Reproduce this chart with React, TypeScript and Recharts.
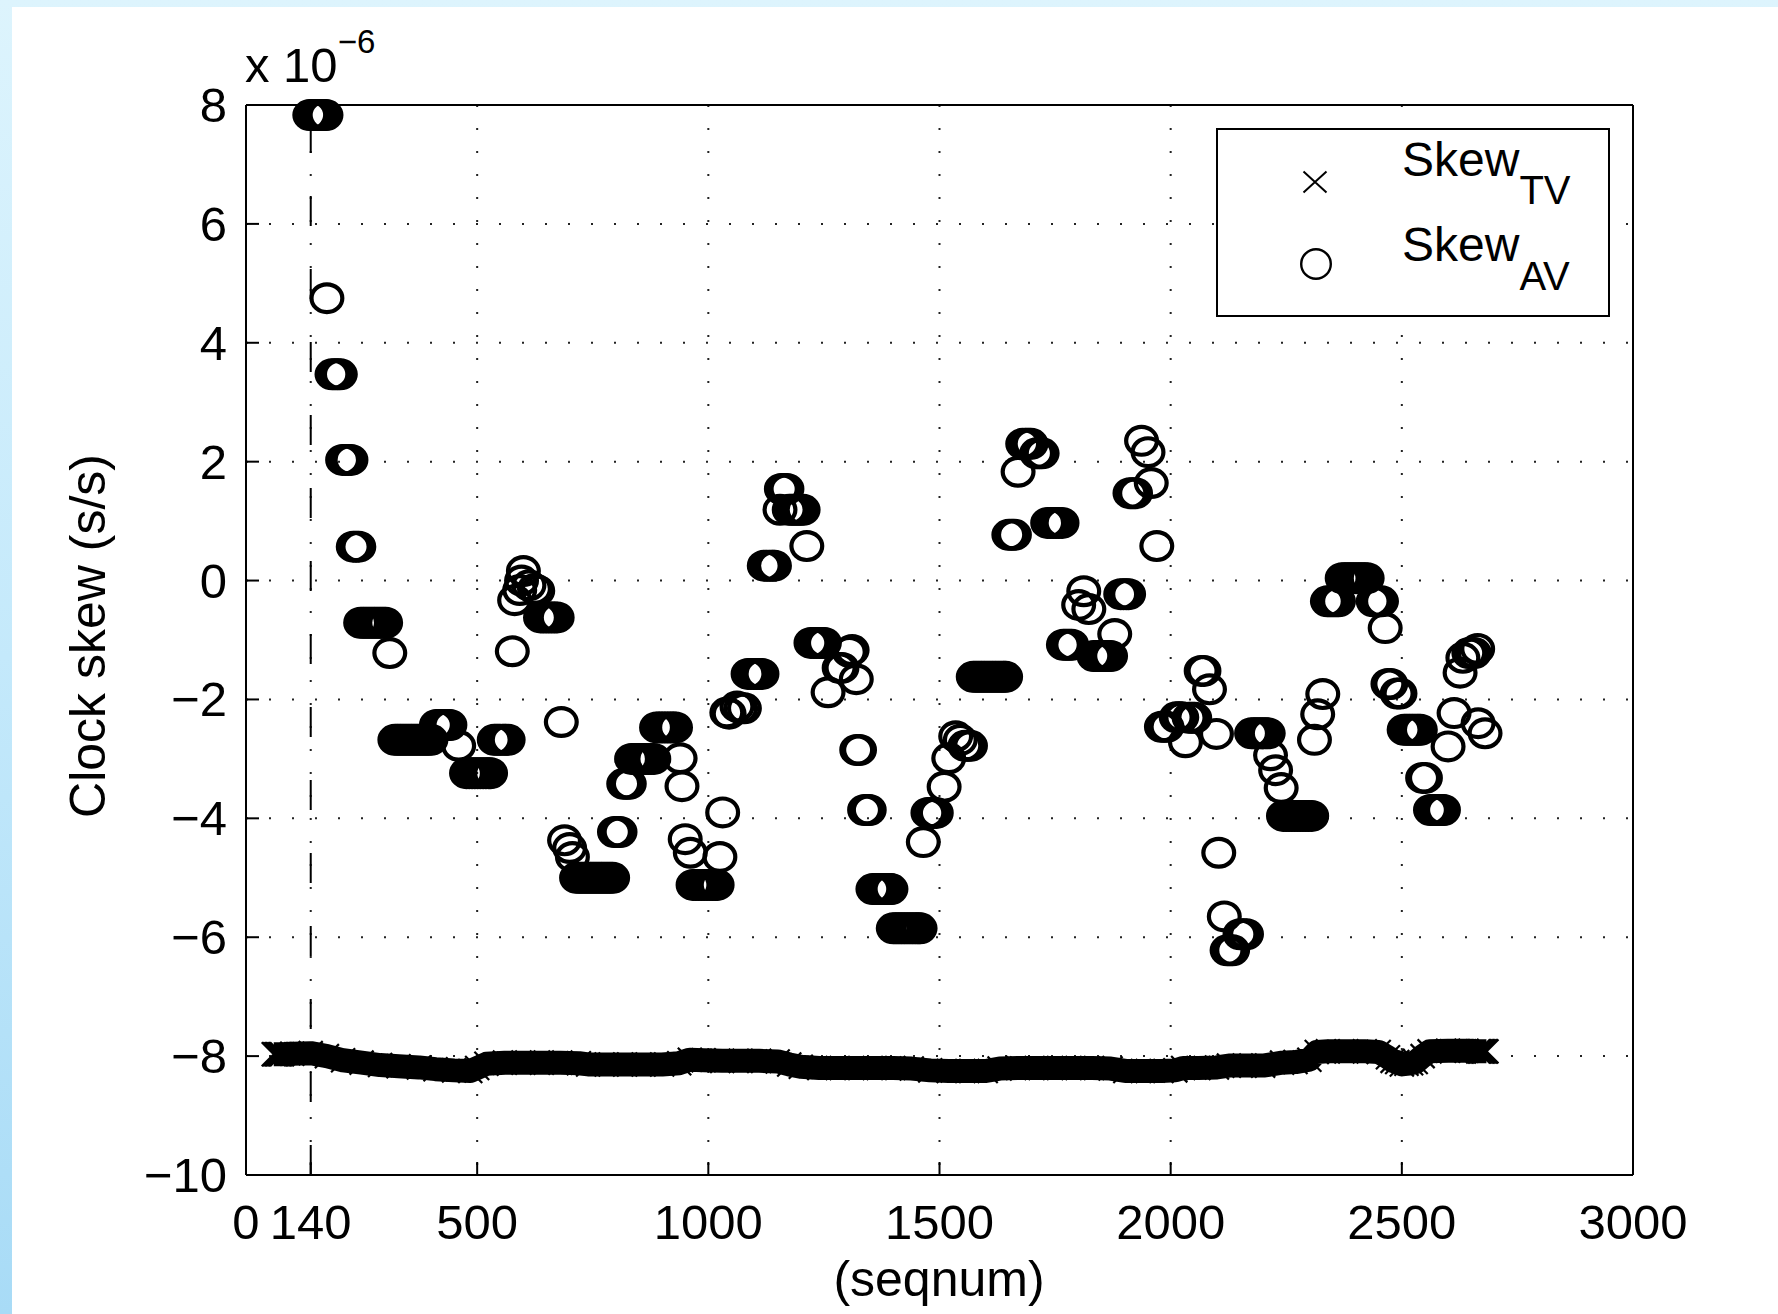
import React from 'react';
import { ScatterChart, Scatter, XAxis, YAxis, CartesianGrid, ReferenceLine } from 'recharts';

const FONT = "'Liberation Sans', Arial, Helvetica, sans-serif";

// axis ticks: seqnum on x, clock skew (x 1e-6 s/s) on y
const seqTicks = [0, 140, 500, 1000, 1500, 2000, 2500, 3000];
const skewTicks = [-10, -8, -6, -4, -2, 0, 2, 4, 6, 8];

// Skew_TV  [seqnum, skew x1e-6]
const skewTV: [number, number][] = [
  [60, -7.97], [63, -7.97], [66, -7.97], [69, -7.97], [72, -7.97], [75, -7.97], [78, -7.97],
  [100, -7.96], [140, -7.95], [175, -8.0], [210, -8.07], [250, -8.11], [290, -8.15],
  [330, -8.17], [374, -8.19], [410, -8.22], [450, -8.24], [485, -8.25], [500, -8.2], [520, -8.13],
  [560, -8.11], [600, -8.11], [640, -8.11], [680, -8.11], [720, -8.12], [740, -8.14], [780, -8.14],
  [820, -8.14], [860, -8.14], [900, -8.14], [937, -8.12], [960, -8.06], [990, -8.07], [1030, -8.08],
  [1070, -8.08], [1110, -8.08], [1150, -8.09], [1175, -8.14], [1200, -8.18], [1240, -8.2], [1280, -8.2],
  [1320, -8.2], [1360, -8.2], [1400, -8.2], [1440, -8.21], [1480, -8.24], [1520, -8.25], [1560, -8.25],
  [1600, -8.25], [1630, -8.21], [1670, -8.2], [1710, -8.2], [1750, -8.2], [1790, -8.2], [1830, -8.2],
  [1870, -8.21], [1902, -8.25], [1940, -8.25], [1980, -8.25], [2010, -8.24], [2027, -8.2], [2060, -8.2],
  [2100, -8.19], [2126, -8.16], [2160, -8.16], [2200, -8.16], [2241, -8.11], [2270, -8.1], [2300, -8.06],
  [2316, -7.93], [2340, -7.92], [2380, -7.92], [2420, -7.92], [2450, -7.93], [2470, -8.02], [2480, -8.08],
  [2490, -8.1], [2500, -8.14], [2510, -8.13], [2520, -8.12], [2530, -8.1], [2545, -8.0], [2560, -7.92],
  [2600, -7.91], [2640, -7.91], [2665, -7.92], [2668, -7.92], [2671, -7.92], [2674, -7.92], [2677, -7.92],
  [2680, -7.92], [2683, -7.92],
];

// Skew_AV  [seqnum, skew x1e-6]
const skewAV: [number, number][] = [
  [138, 7.83], [144, 7.83], [150, 7.83], [156, 7.83], [162, 7.83], [168, 7.83], [173, 7.83],
  [175, 4.75],
  [186, 3.47], [192, 3.47], [198, 3.47], [204, 3.47],
  [209, 2.03], [215, 2.03], [221, 2.03], [227, 2.03],
  [232, 0.57], [238, 0.57], [244, 0.57],
  [248, -0.71], [254, -0.71], [260, -0.71], [266, -0.71], [272, -0.71], [278, -0.71], [284, -0.71], [290, -0.71], [296, -0.71], [302, -0.71],
  [311, -1.22],
  [322, -2.68], [328, -2.68], [334, -2.68], [340, -2.68], [346, -2.68], [352, -2.68], [358, -2.68], [364, -2.68], [370, -2.68], [376, -2.68], [382, -2.68], [388, -2.68], [394, -2.68], [400, -2.68],
  [412, -2.43], [418, -2.43], [424, -2.43], [430, -2.43], [436, -2.43], [441, -2.43],
  [460, -2.78],
  [477, -3.24], [483, -3.24], [489, -3.24], [495, -3.24], [501, -3.24], [507, -3.24], [513, -3.24], [519, -3.24], [525, -3.24], [529, -3.24],
  [537, -2.68], [543, -2.68], [549, -2.68], [555, -2.68], [561, -2.68], [567, -2.68],
  [576, -1.19],
  [581, -0.33], [592, -0.16], [596, 0.0], [600, 0.16], [612, -0.08], [624, -0.14], [631, -0.17],
  [637, -0.62], [643, -0.62], [649, -0.62], [655, -0.62], [661, -0.62], [667, -0.62], [673, -0.62],
  [682, -2.38],
  [689, -4.37], [700, -4.5], [706, -4.65],
  [715, -5.0], [721, -5.0], [727, -5.0], [733, -5.0], [739, -5.0], [745, -5.0], [751, -5.0], [757, -5.0], [763, -5.0], [769, -5.0], [775, -5.0], [781, -5.0], [787, -5.0], [793, -5.0],
  [797, -4.23], [803, -4.23], [809, -4.23],
  [817, -3.42], [823, -3.42], [829, -3.42],
  [834, -3.0], [840, -3.0], [846, -3.0], [852, -3.0], [858, -3.0], [864, -3.0], [870, -3.0], [876, -3.0], [882, -3.0],
  [888, -2.47], [894, -2.47], [900, -2.47], [906, -2.47], [912, -2.47], [918, -2.47], [924, -2.47], [929, -2.47],
  [939, -2.99], [943, -3.46], [950, -4.35], [961, -4.58],
  [967, -5.12], [973, -5.12], [979, -5.12], [985, -5.12], [991, -5.12], [997, -5.12], [1003, -5.12], [1009, -5.12], [1015, -5.12], [1019, -5.12],
  [1025, -4.65], [1031, -3.9],
  [1040, -2.22], [1045, -2.24], [1062, -2.12], [1070, -2.15], [1078, -2.15],
  [1086, -1.57], [1092, -1.57], [1098, -1.57], [1104, -1.57], [1110, -1.57], [1116, -1.57],
  [1121, 0.25], [1127, 0.25], [1133, 0.25], [1139, 0.25], [1143, 0.25],
  [1155, 1.19],
  [1158, 1.54], [1164, 1.54], [1170, 1.54],
  [1175, 1.19], [1181, 1.19], [1187, 1.19], [1193, 1.19], [1199, 1.19], [1205, 1.19],
  [1213, 0.58],
  [1222, -1.05], [1228, -1.05], [1234, -1.05], [1240, -1.05], [1246, -1.05], [1251, -1.05],
  [1259, -1.88],
  [1283, -1.47], [1289, -1.47],
  [1305, -1.2], [1311, -1.17], [1320, -1.66],
  [1321, -2.85], [1327, -2.85],
  [1338, -3.86], [1344, -3.86], [1348, -3.86],
  [1356, -5.19], [1362, -5.19], [1368, -5.19], [1374, -5.19], [1380, -5.19], [1386, -5.19], [1392, -5.19], [1395, -5.19],
  [1400, -5.85], [1406, -5.85], [1412, -5.85], [1418, -5.85], [1424, -5.85], [1430, -5.85], [1436, -5.85], [1442, -5.85], [1448, -5.85], [1454, -5.85], [1458, -5.85],
  [1465, -4.4],
  [1475, -3.91], [1481, -3.91], [1487, -3.91], [1493, -3.91],
  [1510, -3.47], [1520, -2.99], [1535, -2.62], [1545, -2.68],
  [1555, -2.78], [1561, -2.78], [1567, -2.78],
  [1573, -1.62], [1579, -1.62], [1585, -1.62], [1591, -1.62], [1597, -1.62], [1603, -1.62], [1609, -1.62], [1615, -1.62], [1621, -1.62], [1627, -1.62], [1633, -1.62], [1639, -1.62], [1643, -1.62],
  [1650, 0.77], [1656, 0.77], [1662, 0.77],
  [1670, 1.83],
  [1680, 2.3], [1686, 2.3], [1692, 2.3], [1698, 2.3],
  [1710, 2.14], [1716, 2.14], [1722, 2.14],
  [1734, 0.97], [1740, 0.97], [1746, 0.97], [1752, 0.97], [1758, 0.97], [1765, 0.97],
  [1768, -1.08], [1774, -1.08], [1780, -1.08], [1786, -1.08],
  [1801, -0.41], [1812, -0.18], [1823, -0.48],
  [1834, -1.27], [1840, -1.27], [1846, -1.27], [1852, -1.27], [1858, -1.27], [1864, -1.27], [1870, -1.27],
  [1879, -0.9],
  [1892, -0.23], [1898, -0.23], [1904, -0.23], [1909, -0.23],
  [1912, 1.47], [1918, 1.47], [1924, 1.47],
  [1937, 2.35], [1951, 2.16], [1958, 1.64],
  [1970, 0.58],
  [1980, -2.46], [1986, -2.46], [1992, -2.46],
  [2012, -2.3], [2018, -2.3], [2024, -2.3],
  [2032, -2.72],
  [2040, -2.31], [2046, -2.31], [2052, -2.31],
  [2066, -1.52], [2072, -1.52], [2084, -1.83],
  [2099, -2.58],
  [2104, -4.58],
  [2116, -5.65],
  [2122, -6.22], [2128, -6.22], [2134, -6.22],
  [2150, -5.95], [2157, -5.95], [2164, -5.95],
  [2175, -2.57], [2181, -2.57], [2187, -2.57], [2193, -2.57], [2199, -2.57], [2205, -2.57], [2211, -2.57],
  [2216, -2.94], [2227, -3.19], [2239, -3.49],
  [2244, -3.96], [2250, -3.96], [2256, -3.96], [2262, -3.96], [2268, -3.96], [2274, -3.96], [2280, -3.96], [2286, -3.96], [2292, -3.96], [2298, -3.96], [2305, -3.96],
  [2311, -2.68], [2318, -2.25], [2329, -1.91],
  [2339, -0.35], [2345, -0.35], [2351, -0.35], [2357, -0.35], [2363, -0.35],
  [2371, 0.04], [2377, 0.04], [2383, 0.04], [2389, 0.04], [2395, 0.04], [2401, 0.04], [2407, 0.04], [2413, 0.04], [2419, 0.04], [2425, 0.04],
  [2438, -0.35], [2444, -0.35], [2450, -0.35], [2456, -0.35],
  [2464, -0.8],
  [2470, -1.74], [2476, -1.74], [2490, -1.9], [2496, -1.9],
  [2505, -2.51], [2511, -2.51], [2517, -2.51], [2523, -2.51], [2529, -2.51], [2535, -2.51], [2540, -2.51],
  [2545, -3.32], [2551, -3.32],
  [2562, -3.86], [2568, -3.86], [2574, -3.86], [2580, -3.86], [2586, -3.86], [2590, -3.86],
  [2600, -2.79], [2613, -2.23], [2626, -1.55], [2632, -1.3],
  [2645, -1.22], [2651, -1.22], [2657, -1.22],
  [2664, -1.15], [2665, -2.4], [2680, -2.57],
];

const tvData = skewTV.map(([x, y]) => ({ x, y }));
const avData = skewAV.map(([x, y]) => ({ x, y }));

const fmt = (v: number) => (v < 0 ? `\u2212${Math.abs(v)}` : `${v}`);

const textStyle = { fontFamily: FONT, fill: '#000' };

const BottomTick = (props: any) => {
  const { x, y, payload } = props;
  return (
    <g>
      <line x1={x} y1={y} x2={x} y2={y - 13} stroke="#000" strokeWidth={2} />
      <text x={x} y={y + 64} textAnchor="middle" fontSize={49} {...textStyle}>
        {fmt(payload.value)}
      </text>
    </g>
  );
};

const LeftTick = (props: any) => {
  const { x, y, payload } = props;
  return (
    <g>
      <line x1={x} y1={y} x2={x + 13} y2={y} stroke="#000" strokeWidth={2} />
      <text x={x - 19} y={y + 17} textAnchor="end" fontSize={49} {...textStyle}>
        {fmt(payload.value)}
      </text>
    </g>
  );
};

const TopTick = (props: any) => (
  <line x1={props.x} y1={props.y} x2={props.x} y2={props.y + 13} stroke="#000" strokeWidth={2} />
);

const RightTick = (props: any) => (
  <line x1={props.x} y1={props.y} x2={props.x - 13} y2={props.y} stroke="#000" strokeWidth={2} />
);

const renderRing = (p: any) => (
  <ellipse cx={p.cx} cy={p.cy} rx={15.4} ry={13.9} fill="none" stroke="#000" strokeWidth={4.2} />
);

const renderCross = (p: any) => (
  <path
    d={`M${p.cx - 12},${p.cy - 12}L${p.cx + 12},${p.cy + 12}M${p.cx - 12},${p.cy + 12}L${p.cx + 12},${p.cy - 12}`}
    stroke="#000"
    strokeWidth={2.2}
    fill="none"
  />
);

export default function App() {
  return (
    <div
      style={{
        position: 'absolute',
        left: 0,
        top: 0,
        width: 1778,
        height: 1314,
        overflow: 'hidden',
        background: 'linear-gradient(to bottom, #ddf4fd 0%, #c4e9fb 50%, #a8dbf6 100%)',
      }}
    >
      <div style={{ position: 'absolute', left: 12, top: 7, right: 0, bottom: 0, background: '#fff' }} />
      <div style={{ position: 'absolute', left: 0, top: 0 }}>
        <ScatterChart width={1778} height={1314} margin={{ top: 95, right: 125, bottom: 59, left: 96 }}>
          <CartesianGrid stroke="#222" strokeWidth={2} strokeDasharray="2 21" />
          <XAxis
            type="number"
            dataKey="x"
            domain={[0, 3000]}
            ticks={seqTicks}
            interval={0}
            height={80}
            tickSize={0}
            tickMargin={0}
            tickLine={false}
            axisLine={{ stroke: '#000', strokeWidth: 2 }}
            tick={BottomTick}
          />
          <XAxis
            xAxisId="top"
            orientation="top"
            type="number"
            domain={[0, 3000]}
            ticks={seqTicks}
            interval={0}
            height={10}
            tickSize={0}
            tickMargin={0}
            tickLine={false}
            axisLine={{ stroke: '#000', strokeWidth: 2 }}
            tick={TopTick}
          />
          <YAxis
            type="number"
            dataKey="y"
            domain={[-10, 8]}
            ticks={skewTicks}
            interval={0}
            width={150}
            tickSize={0}
            tickMargin={0}
            tickLine={false}
            axisLine={{ stroke: '#000', strokeWidth: 2 }}
            tick={LeftTick}
          />
          <YAxis
            yAxisId="right"
            orientation="right"
            type="number"
            domain={[-10, 8]}
            ticks={skewTicks}
            interval={0}
            width={20}
            tickSize={0}
            tickMargin={0}
            tickLine={false}
            axisLine={{ stroke: '#000', strokeWidth: 2 }}
            tick={RightTick}
          />
          <ReferenceLine x={140} stroke="#000" strokeWidth={2} strokeDasharray="30 43" />
          <Scatter
            name="SkewTV"
            data={tvData}
            fill="#000"
            line={{ stroke: '#000', strokeWidth: 24, strokeLinejoin: 'round' }}
            lineType="joint"
            shape={renderCross}
            isAnimationActive={false}
          />
          <Scatter name="SkewAV" data={avData} fill="#000" shape={renderRing} isAnimationActive={false} />
        </ScatterChart>
      </div>
      <svg
        width={1778}
        height={1314}
        style={{ position: 'absolute', left: 0, top: 0, pointerEvents: 'none' }}
      >
        <text x={245} y={82} fontSize={49} {...textStyle}>
          x 10
          <tspan fontSize={33} dy={-29}>
            {'\u22126'}
          </tspan>
        </text>
        <text transform="translate(105,636) rotate(-90)" textAnchor="middle" fontSize={50} {...textStyle}>
          Clock skew (s/s)
        </text>
        <text x={939} y={1296} textAnchor="middle" fontSize={50} {...textStyle}>
          (seqnum)
        </text>
        <rect x={1217} y={129} width={392} height={187} fill="#fff" stroke="#000" strokeWidth={2} />
        <path d="M1303.5,171.5L1326.5,192.5M1303.5,192.5L1326.5,171.5" stroke="#000" strokeWidth={2} fill="none" />
        <circle cx={1316} cy={264} r={14.8} fill="none" stroke="#000" strokeWidth={2.4} />
        <text x={1402} y={176} fontSize={48} {...textStyle}>
          Skew
          <tspan fontSize={40} dy={28}>
            TV
          </tspan>
        </text>
        <text x={1402} y={261} fontSize={48} {...textStyle}>
          Skew
          <tspan fontSize={40} dy={29}>
            AV
          </tspan>
        </text>
      </svg>
    </div>
  );
}
